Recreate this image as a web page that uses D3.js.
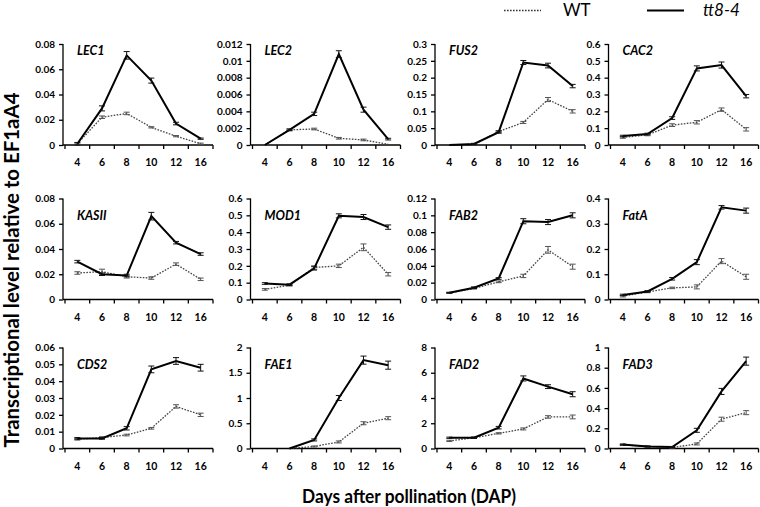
<!DOCTYPE html>
<html><head><meta charset="utf-8">
<script src="https://cdn.jsdelivr.net/npm/d3@7"></script>
<style>body{margin:0;background:#fff}svg{display:block}text{font-family:Lato,"Open Sans",sans-serif}</style>
</head><body><svg id="c" width="760" height="507"></svg>
<script>
const days = ["4","6","8","10","12","16"];
const genes = ["LEC1","LEC2","FUS2","CAC2","KASII","MOD1","FAB2","FatA","CDS2","FAE1","FAD2","FAD3"];
const yMax  = [0.08,0.012,0.3,0.6,0.08,0.6,0.12,0.4,0.06,2,8,1];
const yStep = [0.02,0.002,0.05,0.1,0.02,0.1,0.02,0.1,0.01,0.5,2,0.2];
const tt8 = [
 [0.001,0.029,0.071,0.051,0.017,0.005],
 [0,0.0018,0.0037,0.0108,0.0042,0.0007],
 [0,0.003,0.038,0.245,0.236,0.175],
 [0.053,0.065,0.16,0.455,0.475,0.29],
 [0.030,0.020,0.019,0.066,0.045,0.036],
 [0.095,0.088,0.185,0.497,0.49,0.43],
 [0.008,0.014,0.025,0.093,0.092,0.1],
 [0.018,0.032,0.082,0.148,0.365,0.352],
 [0.006,0.006,0.012,0.047,0.052,0.048],
 [null,0,0.17,1.0,1.75,1.65],
 [0.85,0.85,1.65,5.55,4.9,4.3],
 [0.04,0.02,0.015,0.18,0.565,0.865]
];
const tt8Err = [
 [0.001,0.002,0.003,0.002,0.001,0.0005],
 [0,0.0001,0.0002,0.0004,0.0003,0.0001],
 [0,0.002,0.003,0.006,0.007,0.005],
 [0.005,0.005,0.008,0.015,0.018,0.01],
 [0.001,0.001,0.001,0.003,0.001,0.001],
 [0.005,0.005,0.01,0.012,0.015,0.013],
 [0.0005,0.001,0.001,0.003,0.003,0.003],
 [0.003,0.003,0.005,0.01,0.007,0.01],
 [0.0005,0.0005,0.001,0.002,0.002,0.002],
 [null,0,0.02,0.05,0.08,0.08],
 [0.05,0.05,0.1,0.2,0.15,0.2],
 [0.005,0.005,0.005,0.02,0.03,0.04]
];
const wt = [
 [0.001,0.022,0.025,0.014,0.007,0.001],
 [0,0.0018,0.0019,0.0008,0.0006,0.0001],
 [0,0.002,0.04,0.067,0.135,0.1],
 [0.045,0.06,0.118,0.135,0.21,0.093],
 [0.021,0.022,0.018,0.017,0.028,0.016],
 [0.06,0.085,0.19,0.2,0.31,0.15],
 [0.008,0.013,0.021,0.028,0.059,0.039],
 [0.013,0.03,0.046,0.05,0.152,0.09],
 [0.0055,0.0065,0.008,0.012,0.025,0.02],
 [null,0,0.04,0.13,0.5,0.6],
 [0.6,0.85,1.2,1.55,2.5,2.5],
 [0.035,0.02,0.01,0.045,0.29,0.355]
];
const wtErr = [
 [0.0005,0.001,0.001,0.0005,0.0005,0.0005],
 [0,0.0001,0.0001,0.0001,0.0001,0],
 [0,0.001,0.003,0.003,0.006,0.005],
 [0.005,0.005,0.008,0.01,0.01,0.01],
 [0.001,0.002,0.001,0.001,0.001,0.001],
 [0.005,0.005,0.01,0.01,0.02,0.01],
 [0.0005,0.0005,0.001,0.002,0.004,0.003],
 [0.003,0.003,0.003,0.008,0.01,0.01],
 [0.0005,0.0005,0.0005,0.0005,0.001,0.001],
 [null,0,0.01,0.02,0.03,0.03],
 [0.05,0.05,0.05,0.08,0.1,0.15],
 [0.005,0.005,0.005,0.01,0.02,0.02]
];

const svg = d3.select("#c");
const colX = [63, 250.5, 435, 608.5];
const rowTop = [44, 198.5, 347.5];
const plotH = 101, plotW = 150;
const labelOff = [11, 21, 21];
const fmt = v => String(+v.toFixed(6));

genes.forEach((g, i) => {
  const r = Math.floor(i / 4), c = i % 4;
  const x0 = colX[c], top = rowTop[r];
  const gg = svg.append("g").attr("transform", `translate(${x0},${top})`);
  const x = d3.scaleBand().domain(days).range([2, plotW]);
  const y = d3.scaleLinear().domain([0, yMax[i]]).range([plotH, 0]);
  const ticks = d3.range(0, yMax[i] + yStep[i] / 2, yStep[i]);
  // y axis
  const ya = gg.append("g").call(d3.axisLeft(y).tickValues(ticks).tickFormat(fmt).tickSize(4).tickPadding(4));
  ya.select(".domain").attr("stroke", "#000").attr("stroke-width", 1.3).attr("d", `M0,${plotH}V0`);
  ya.selectAll(".tick line").attr("stroke-width", 1.3);
  ya.selectAll("text").attr("font-size", 10).attr("font-weight", "bold").attr("fill", "#000");
  // x axis
  const xa = gg.append("g").attr("transform", `translate(0,${plotH})`)
    .call(d3.axisBottom(x).tickSize(0).tickPadding(14));
  xa.select(".domain").attr("stroke", "#000").attr("stroke-width", 1.3).attr("d", `M0,0H${plotW}`);
  xa.selectAll("text").attr("font-size", 10.5).attr("font-weight", "bold").attr("fill", "#000");
  const bounds = days.map(d => x(d)).concat([x(days[days.length - 1]) + x.bandwidth()]);
  xa.selectAll(".btick").data(bounds).join("line").attr("class", "btick")
    .attr("x1", d => d).attr("x2", d => d).attr("y1", 0).attr("y2", 4)
    .attr("stroke", "#000").attr("stroke-width", 1.3);
  // gene label
  gg.append("text").attr("x", 14).attr("y", labelOff[r]).text(g)
    .attr("font-size", 12.5).attr("font-weight", "bold").attr("font-style", "italic");
  const cx = d => x(d) + x.bandwidth() / 2;
  const series = [
    {v: wt[i], e: wtErr[i], stroke: "#444", w: 1.3, dash: "1.6,1.4", ec: "#555"},
    {v: tt8[i], e: tt8Err[i], stroke: "#000", w: 2, dash: null, ec: "#111"}
  ];
  series.forEach(s => {
    const pts = days.map((d, k) => ({d, v: s.v[k], e: s.e[k]}));
    const line = d3.line().defined(p => p.v !== null).x(p => cx(p.d)).y(p => y(p.v));
    gg.append("path").datum(pts).attr("d", line).attr("fill", "none")
      .attr("stroke", s.stroke).attr("stroke-width", s.w).attr("stroke-dasharray", s.dash);
    const eb = gg.append("g").attr("stroke", s.ec).attr("stroke-width", 1);
    pts.filter(p => p.v !== null && p.e > 0).forEach(p => {
      const X = cx(p.d), y1 = y(p.v + p.e), y2 = y(Math.max(0, p.v - p.e));
      eb.append("line").attr("x1", X).attr("x2", X).attr("y1", y1).attr("y2", y2);
      eb.append("line").attr("x1", X - 3).attr("x2", X + 3).attr("y1", y1).attr("y2", y1);
      eb.append("line").attr("x1", X - 3).attr("x2", X + 3).attr("y1", y2).attr("y2", y2);
    });
  });
});

// axis titles
svg.append("text").attr("transform", "translate(19,270) rotate(-90)")
  .attr("text-anchor", "middle").attr("font-size", 20).attr("font-weight", "bold")
  .attr("textLength", 355).attr("lengthAdjust", "spacingAndGlyphs")
  .text("Transcriptional level relative to EF1aA4");
svg.append("text").attr("x", 409).attr("y", 503)
  .attr("text-anchor", "middle").attr("font-size", 18).attr("font-weight", "bold")
  .attr("textLength", 214).attr("lengthAdjust", "spacingAndGlyphs")
  .text("Days after pollination (DAP)");

// legend
const legend = [
  {name: "WT", x1: 504, x2: 541, tx: 563, dash: "1.6,1.4", w: 1.5, italic: false, stroke: "#333"},
  {name: "tt8-4", x1: 647, x2: 684, tx: 703, dash: null, w: 2, italic: true, stroke: "#000"}
];
legend.forEach(l => {
  svg.append("line").attr("x1", l.x1).attr("x2", l.x2).attr("y1", 10.5).attr("y2", 10.5)
    .attr("stroke", l.stroke).attr("stroke-width", l.w).attr("stroke-dasharray", l.dash);
  svg.append("text").attr("x", l.tx).attr("y", 16).attr("font-size", 17)
    .attr("font-style", l.italic ? "italic" : "normal").text(l.name);
});
</script></body></html>
